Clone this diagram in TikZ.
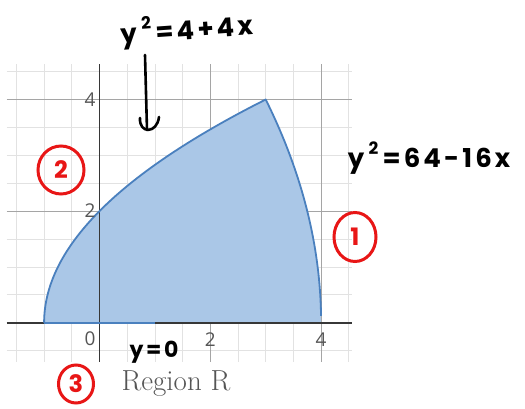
\documentclass[tikz,border=0pt]{standalone}
\usepackage{fontspec}
\usetikzlibrary{shapes.geometric}
\newfontfamily\hand[LetterSpace=12]{Poppins}
\newfontfamily\ticksans{Open Sans}
\definecolor{gridminor}{RGB}{226,226,226}
\definecolor{gridmajor}{RGB}{165,165,165}
\definecolor{axiscol}{RGB}{55,55,55}
\definecolor{regfill}{RGB}{170,199,231}
\definecolor{regedge}{RGB}{74,128,190}
\definecolor{tickcol}{RGB}{85,85,85}
\definecolor{markred}{RGB}{232,22,22}
\newcommand{\hsup}[1]{\raisebox{0.5em}{\fontsize{17}{17}\selectfont #1}}
\tikzset{
  minorgrid/.style={draw=gridminor, line width=0.8pt},
  majorgrid/.style={draw=gridmajor, line width=0.8pt},
  axisline/.style={draw=axiscol, line width=1.8pt},
  edgeline/.style={draw=regedge, line width=1.8pt, line join=round},
  ticklab/.style={text=tickcol, font=\ticksans\fontsize{19}{19}\selectfont, inner sep=0pt},
  handtext/.style={text=black, font=\hand\bfseries\fontsize{26}{26}\selectfont, inner sep=0pt},
  handline/.style={draw=black, line width=2.6pt, line cap=round, line join=round},
  redmark/.style={ellipse, draw=markred, line width=3pt, text=markred, inner sep=0pt,
     font=\hand\bfseries\fontsize{24}{24}\selectfont},
  titlelab/.style={text=tickcol, font=\fontsize{29}{29}\selectfont, inner sep=0pt}
}
\begin{document}
\begin{tikzpicture}[x=1pt,y=-1pt]
\useasboundingbox (0,0) rectangle (525,409);
\fill[white] (0,0) rectangle (525,409);
\begin{scope}[shift={(99.5pt,-322.7pt)}, x=55.4pt, y=55.8pt]
  \draw[minorgrid, step=0.5] (-1.67,-0.7) grid (4.56,4.63);
  \draw[majorgrid, step=2] (-1.67,-0.7) grid (4.56,4.63);
  \fill[regfill]
    plot[domain=0:4, samples=60, smooth] ({(\x*\x-4)/4},\x)
    -- plot[domain=4:0, samples=60, smooth] ({(64-\x*\x)/16},\x) -- cycle;
  \draw[axisline] (-1.67,0) -- (4.56,0);
  \draw[axisline] (0,-0.7) -- (0,4.63);
  \draw[edgeline] plot[domain=0:4, samples=60, smooth] ({(\x*\x-4)/4},\x)
    -- plot[domain=4:0.12, samples=60, smooth] ({(64-\x*\x)/16},\x);
  \draw[edgeline] (-1,0) -- (1,0);
  \node[ticklab, anchor=east] (t4) at (-0.07,4) {4};
  \node[ticklab, anchor=east] (t2) at (-0.07,2) {2};
  \node[ticklab, anchor=east] (t0) at (-0.07,-0.28) {0};
  \node[ticklab] (x2) at (2,-0.3) {2};
  \node[ticklab] (x4) at (4,-0.3) {4};
\end{scope}
% handwritten annotations
\node[handtext, rotate=4] (eqtop) at (187,30) {y\,\hsup{2}\,=4+4x};
\node[handtext] (eqright) at (429,158) {y\,\hsup{2}\,=64-16x};
\node[handtext, font=\hand\bfseries\fontsize{22}{22}\selectfont] (eqbot) at (154,352) {y=0};
\coordinate (arrtop) at (145,55);
\coordinate (arrbot) at (147,130);
\draw[handline] (arrtop) -- (arrbot);
\draw[handline] (140,118) .. controls (139,134) and (157,134) .. (159,117);
\node[redmark, minimum width=46pt, minimum height=48pt] (m2) at (61,170) {2};
\node[redmark, minimum width=42pt, minimum height=49pt] (m1) at (355,237) {1};
\node[redmark, minimum width=35pt, minimum height=38pt] (m3) at (76,384) {3};
\node[titlelab] (title) at (176,384) {Region R};
\end{tikzpicture}
\end{document}
